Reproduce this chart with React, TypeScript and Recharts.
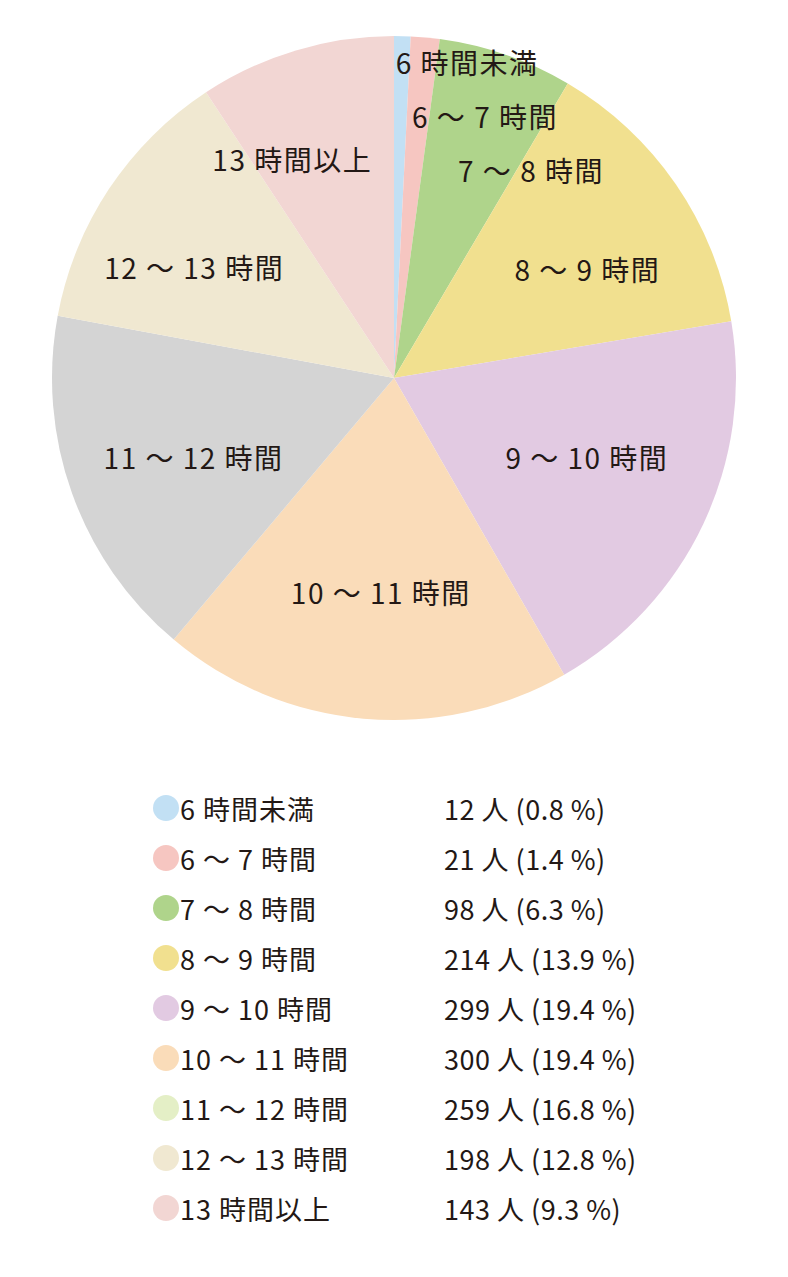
import React from "react";
import { PieChart, Pie, Cell } from "recharts";

const categories = [
  "6 時間未満",
  "6 〜 7 時間",
  "7 〜 8 時間",
  "8 〜 9 時間",
  "9 〜 10 時間",
  "10 〜 11 時間",
  "11 〜 12 時間",
  "12 〜 13 時間",
  "13 時間以上",
];
const counts = [12, 21, 98, 214, 299, 300, 259, 198, 143];
const valueLabels = [
  "12 人 (0.8 %)",
  "21 人 (1.4 %)",
  "98 人 (6.3 %)",
  "214 人 (13.9 %)",
  "299 人 (19.4 %)",
  "300 人 (19.4 %)",
  "259 人 (16.8 %)",
  "198 人 (12.8 %)",
  "143 人 (9.3 %)",
];
const pieColors = [
  "#c2e0f4",
  "#f6c6c1",
  "#afd48b",
  "#f1e08f",
  "#e2cae2",
  "#fadcb9",
  "#d4d4d4",
  "#f0e8d1",
  "#f2d6d3",
];
const legendColors = [
  "#c2e0f4",
  "#f6c6c1",
  "#afd48b",
  "#f1e08f",
  "#e2cae2",
  "#fadcb9",
  "#e4efc6",
  "#f0e8d1",
  "#f2d6d3",
];

const FONT = "'Noto Sans CJK JP', 'Noto Sans', sans-serif";
const RADIAN = Math.PI / 180;

const data = categories.map((name, i) => ({ name, value: counts[i] }));

// label placement: radius along the slice middle, then a small hand nudge
const labelRadius = [316, 263, 220, 225, 210, 214, 215, 229, 236];
const labelNudge = [
  [-6, 0],
  [-6, 0],
  [-8, 0],
  [8, 18],
  [3, -11],
  [6, 1],
  [2, 7],
  [-9, 16],
  [-34, 7],
];

function renderLabel(props: any) {
  const { cx, cy, midAngle, index } = props;
  const r = labelRadius[index];
  const x = cx + r * Math.cos(-midAngle * RADIAN) + labelNudge[index][0];
  const y = cy + r * Math.sin(-midAngle * RADIAN) + labelNudge[index][1];
  const small = index < 3;
  return (
    <text
      x={x}
      y={y}
      textAnchor={small ? "start" : "middle"}
      dominantBaseline="central"
      fill="#231815"
      fontSize={28}
      letterSpacing={1.5}
      fontFamily={FONT}
    >
      {categories[index]}
    </text>
  );
}

export default function App() {
  return (
    <div style={{ position: "absolute", top: 0, left: 0, width: 788, height: 1277, background: "#fff" }}>
      <PieChart width={788} height={760} margin={{ top: 0, right: 0, bottom: 0, left: 0 }}>
        <Pie
          data={data}
          dataKey="value"
          cx={394}
          cy={378}
          outerRadius={342}
          startAngle={90}
          endAngle={-270}
          stroke="none"
          label={renderLabel}
          labelLine={false}
          isAnimationActive={false}
        >
          {data.map((d, i) => (
            <Cell key={d.name} fill={pieColors[i]} />
          ))}
        </Pie>
      </PieChart>
      <div style={{ position: "absolute", top: 783, left: 0, width: 788, fontFamily: FONT, fontSize: 27, color: "#231815" }}>
        {categories.map((c, i) => (
          <div key={c} style={{ position: "relative", height: 50, display: "flex", alignItems: "center" }}>
            <span
              style={{
                position: "absolute",
                left: 153,
                width: 26,
                height: 26,
                borderRadius: 13,
                background: legendColors[i],
              }}
            />
            <span style={{ position: "absolute", left: 180, whiteSpace: "nowrap", letterSpacing: 1 }}>{c}</span>
            <span style={{ position: "absolute", left: 444, whiteSpace: "nowrap", letterSpacing: 0.5 }}>{valueLabels[i]}</span>
          </div>
        ))}
      </div>
    </div>
  );
}
